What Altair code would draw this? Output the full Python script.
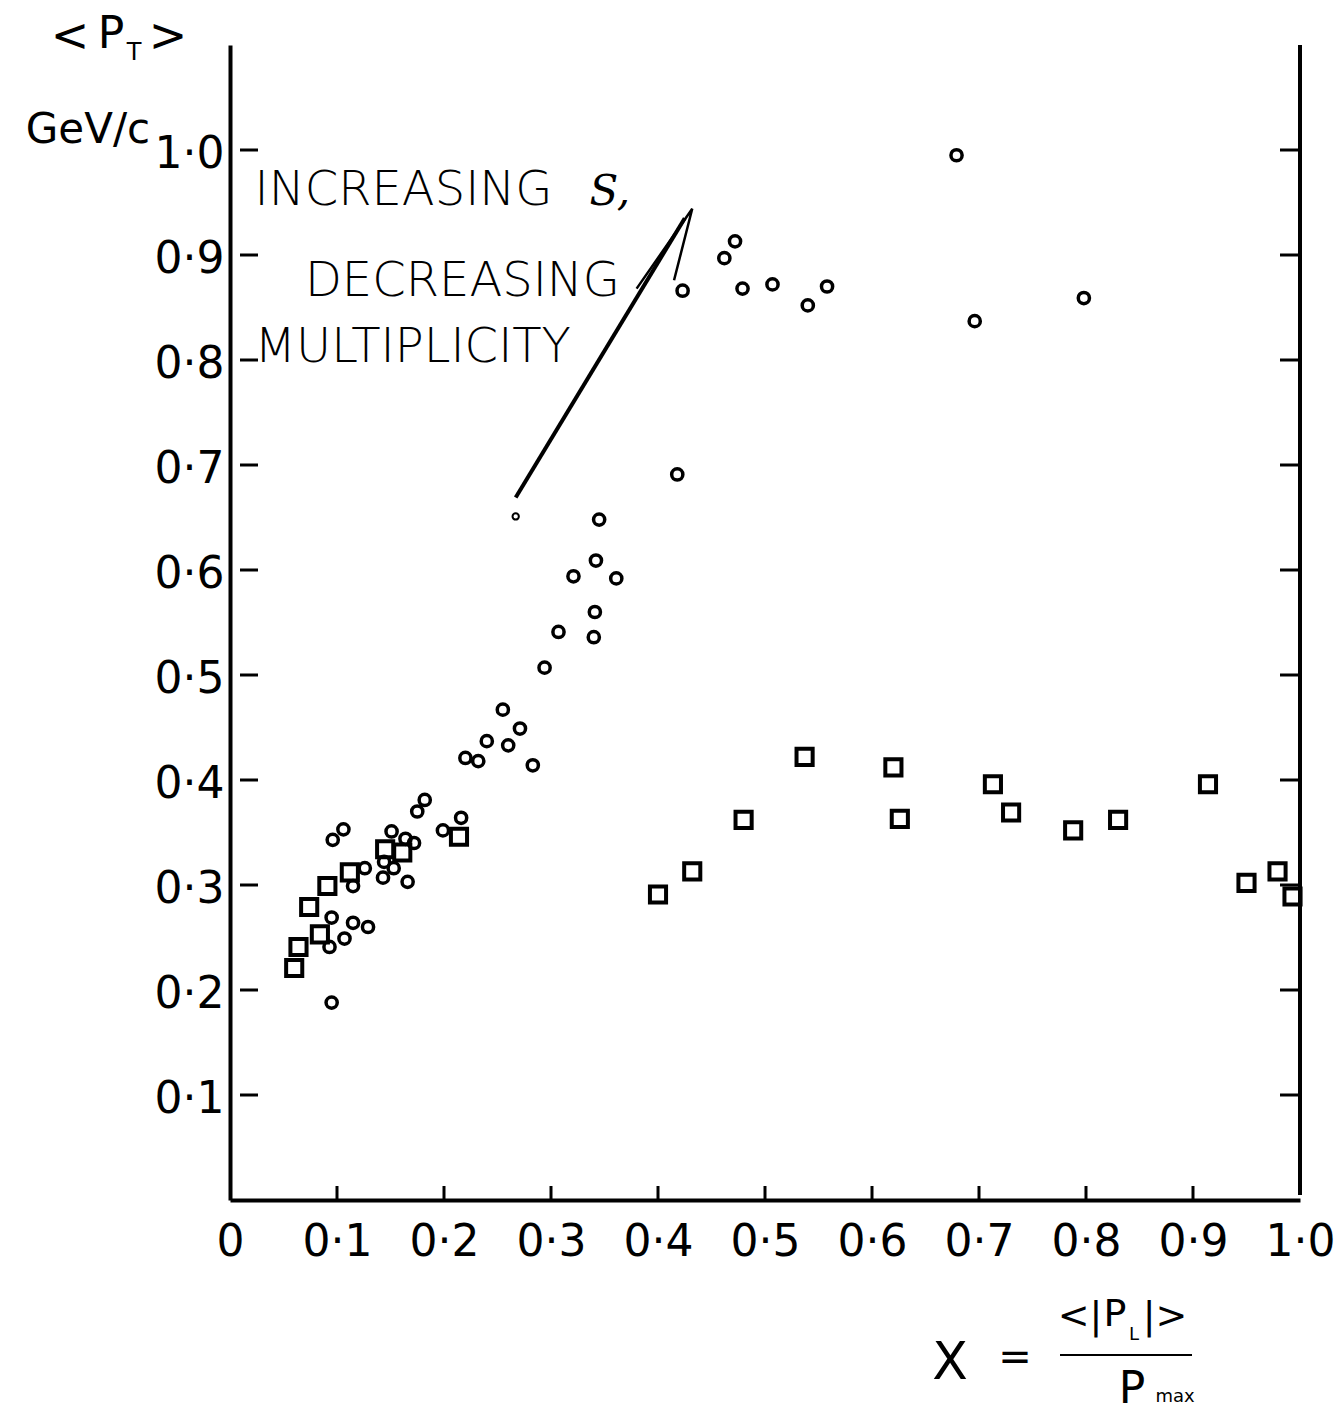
import altair as alt
import pandas as pd

# ---- data ----
circle_x = [0.095, 0.106, 0.096, 0.151, 0.164, 0.172, 0.144, 0.153, 0.143, 0.166,
            0.126, 0.115, 0.095, 0.115, 0.129, 0.093, 0.107, 0.175, 0.182, 0.199,
            0.216, 0.220, 0.232, 0.240, 0.260, 0.255, 0.271, 0.283, 0.294, 0.307,
            0.321, 0.342, 0.361, 0.341, 0.340, 0.345, 0.418,
            0.423, 0.462, 0.472, 0.479, 0.507, 0.540, 0.558, 0.679, 0.696, 0.798]
circle_y = [0.188, 0.353, 0.343, 0.351, 0.344, 0.340, 0.322, 0.316, 0.307, 0.303,
            0.316, 0.299, 0.269, 0.264, 0.260, 0.241, 0.249, 0.370, 0.381, 0.352,
            0.364, 0.421, 0.418, 0.437, 0.433, 0.467, 0.449, 0.414, 0.507, 0.541,
            0.594, 0.609, 0.592, 0.560, 0.536, 0.648, 0.691,
            0.866, 0.897, 0.913, 0.868, 0.872, 0.852, 0.870, 0.995, 0.837, 0.859]
small_x = [0.267]
small_y = [0.651]
square_x = [0.060, 0.064, 0.084, 0.074, 0.091, 0.112, 0.145, 0.161, 0.214,
            0.400, 0.432, 0.480, 0.537, 0.620, 0.626, 0.713, 0.730, 0.788, 0.830,
            0.914, 0.950, 0.979, 0.993]
square_y = [0.221, 0.241, 0.253, 0.279, 0.299, 0.312, 0.334, 0.331, 0.346,
            0.291, 0.313, 0.362, 0.422, 0.412, 0.363, 0.396, 0.369, 0.352, 0.362,
            0.396, 0.302, 0.313, 0.289]

y_ticks = [0.1, 0.2, 0.3, 0.4, 0.5, 0.6, 0.7, 0.8, 0.9, 1.0]
x_ticks = [0.1, 0.2, 0.3, 0.4, 0.5, 0.6, 0.7, 0.8, 0.9]
x_labels = [0.0, 0.1, 0.2, 0.3, 0.4, 0.5, 0.6, 0.7, 0.8, 0.9, 1.0]

ann_text = ["INCREASING", "DECREASING", "MULTIPLICITY"]
ann_x = [0.023, 0.070, 0.023]
ann_y = [0.948, 0.861, 0.798]

arrow_x = [0.267, 0.425]
arrow_y = [0.669, 0.935]
head_x = [0.380, 0.432, 0.415]
head_y = [0.868, 0.944, 0.876]

W, H = 1070, 1155
FONT = "DejaVu Sans"
xs = alt.Scale(domain=[0, 1], nice=False, zero=False)
ys = alt.Scale(domain=[0, 1.1], nice=False, zero=False)
lab = "datum.value == 0 ? '0' : replace(format(datum.value, '.1f'), '.', '·')"

df_c = pd.DataFrame({"x": circle_x, "y": circle_y})
df_s = pd.DataFrame({"x": square_x, "y": square_y})
df_sm = pd.DataFrame({"x": small_x, "y": small_y})

circles = alt.Chart(df_c).mark_point(
    shape="circle", filled=False, size=125, strokeWidth=3.5, color="black", opacity=1
).encode(
    x=alt.X("x:Q", scale=xs, axis=alt.Axis(
        values=x_labels, labelExpr=lab, title=None, grid=False, ticks=False,
        domainWidth=4, domainColor="black", labelFontSize=44, labelFont=FONT,
        labelColor="black", labelPadding=20, labelFlush=False)),
    y=alt.Y("y:Q", scale=ys, axis=alt.Axis(
        values=y_ticks, labelExpr=lab, title=None, grid=False, ticks=False,
        domainWidth=4, domainColor="black", labelFontSize=44, labelFont=FONT,
        labelColor="black", labelPadding=6, labelOffset=4, labelFlush=False)),
)
smalls = alt.Chart(df_sm).mark_point(
    shape="circle", filled=False, size=40, strokeWidth=2, color="black", opacity=1
).encode(x=alt.X("x:Q", scale=xs), y=alt.Y("y:Q", scale=ys))
squares = alt.Chart(df_s).mark_point(
    shape="square", filled=False, size=260, strokeWidth=4, color="black", opacity=1
).encode(x=alt.X("x:Q", scale=xs), y=alt.Y("y:Q", scale=ys))

# inward tick marks
yt = pd.DataFrame({"v": y_ticks})
xt = pd.DataFrame({"v": x_ticks})
ltick = alt.Chart(yt).mark_rule(color="black", strokeWidth=3).encode(
    y=alt.Y("v:Q", scale=ys), x=alt.value(10), x2=alt.value(28))
rtick = alt.Chart(yt).mark_rule(color="black", strokeWidth=3).encode(
    y=alt.Y("v:Q", scale=ys), x=alt.value(W - 20), x2=alt.value(W))
btick = alt.Chart(xt).mark_rule(color="black", strokeWidth=3).encode(
    x=alt.X("v:Q", scale=xs), y=alt.value(H), y2=alt.value(H - 14))
rborder = alt.Chart(yt).mark_rule(color="black", strokeWidth=4).encode(
    x=alt.value(W), y=alt.value(0), y2=alt.value(H - 5))

# annotation
df_ann = pd.DataFrame({"t": ann_text, "x": ann_x, "y": ann_y})
ann = alt.Chart(df_ann).mark_text(
    align="left", baseline="alphabetic", font=FONT, fontWeight=300,
    fontSize=48, color="black"
).encode(x=alt.X("x:Q", scale=xs), y=alt.Y("y:Q", scale=ys), text="t:N")
s_sym = alt.Chart(pd.DataFrame({"t": ["S,"], "x": [0.336], "y": [0.948]})).mark_text(
    align="left", baseline="alphabetic", font="DejaVu Serif", fontStyle="italic",
    fontSize=42, color="black"
).encode(x=alt.X("x:Q", scale=xs), y=alt.Y("y:Q", scale=ys), text="t:N")

shaft = alt.Chart(pd.DataFrame({"x": arrow_x, "y": arrow_y})).mark_line(
    color="black", strokeWidth=4
).encode(x=alt.X("x:Q", scale=xs), y=alt.Y("y:Q", scale=ys))
head = alt.Chart(pd.DataFrame({"x": head_x, "y": head_y, "o": [0, 1, 2]})).mark_line(
    color="black", strokeWidth=2.5
).encode(x=alt.X("x:Q", scale=xs), y=alt.Y("y:Q", scale=ys), order="o:Q")


def txt(s, px, py, size, font=FONT, align="center"):
    return alt.Chart(pd.DataFrame({"t": [s]})).mark_text(
        font=font, fontSize=size, color="black", align=align, baseline="middle"
    ).encode(x=alt.value(px), y=alt.value(py), text="t:N")


titles = [
    txt("<", -160, -8, 46),
    txt("P", -119, -10, 44),
    txt("T", -96, 8, 24),
    txt(">", -62, -8, 46),
    txt("GeV/c", -142, 85, 42),
    txt("X", 720, 1318, 52),
    txt("=", 785, 1313, 40),
    txt("<|", 850, 1272, 38),
    txt("P", 885, 1270, 38),
    txt("L", 904, 1290, 18),
    txt("|>", 935, 1272, 38),
    txt("P", 902, 1345, 44),
    txt("max", 945, 1352, 18),
]
frac = alt.Chart(pd.DataFrame({"a": [0]})).mark_rule(color="black", strokeWidth=2).encode(
    x=alt.value(830), x2=alt.value(962), y=alt.value(1310))

chart = alt.layer(
    circles, smalls, squares, ltick, rtick, btick, rborder,
    ann, s_sym, shaft, head, frac, *titles
).properties(
    width=W, height=H,
    autosize=alt.AutoSizeParams(type="none"),
    padding={"left": 230, "top": 45, "right": 43, "bottom": 212},
    background="white",
).configure_view(stroke=None)

chart.save("out.html", embed_options={"renderer": "svg", "actions": False})
